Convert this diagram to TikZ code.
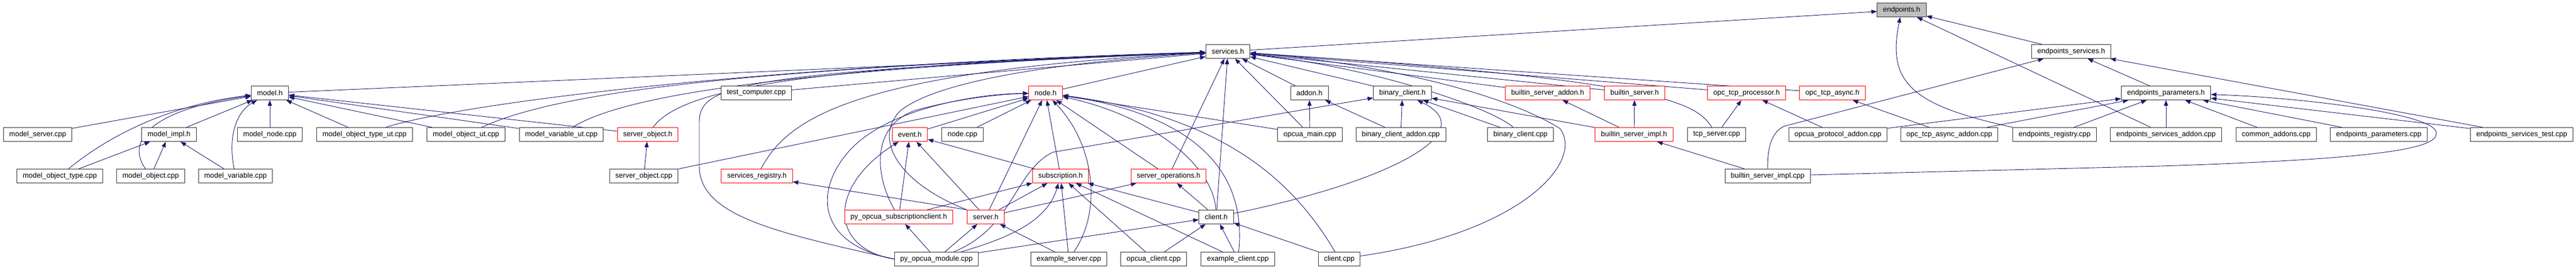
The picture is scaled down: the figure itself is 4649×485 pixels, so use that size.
\documentclass[tikz,border=0pt]{standalone}
\usepackage{fontspec}
\setmainfont{Liberation Sans}
\usetikzlibrary{arrows.meta,backgrounds}
\definecolor{edgeblue}{RGB}{25,25,112}
\tikzset{
  filebox/.style={draw=black!80, fill=white, line width=1pt, font=\fontsize{13}{15}\selectfont,
    inner xsep=10.5pt, inner ysep=0pt, minimum height=25pt},
  redbox/.style={filebox, draw=red},
  mainbox/.style={filebox, fill=black!25},
  incl/.style={draw=edgeblue, line width=0.9pt, -{Triangle[length=10pt,width=7.5pt]}}
}
\begin{document}
\begin{tikzpicture}[x=1pt, y=-1pt]
\useasboundingbox (0,0) rectangle (4649,485);
% row 0 and 1
\node[mainbox] (endpoints) at (3432,18) {endpoints.h};
\node[filebox] (services) at (2216,93) {services.h};
\node[filebox] (epservices) at (3738,93) {endpoints\_services.h};
% row 2
\node[filebox] (model) at (487,168) {model.h};
\node[filebox] (testcomputer) at (1365,168) {test\_computer.cpp};
\node[redbox] (node) at (1887,168) {node.h};
\node[filebox] (addon) at (2363,168) {addon.h};
\node[filebox] (binclient) at (2531,168) {binary\_client.h};
\node[redbox] (bsaddon) at (2793,168) {builtin\_server\_addon.h};
\node[redbox] (bserver) at (2950,168) {builtin\_server.h};
\node[redbox] (tcpproc) at (3152,168) {opc\_tcp\_processor.h};
\node[redbox] (tcpasync) at (3307,168) {opc\_tcp\_async.h};
\node[filebox] (epparams) at (3909,168) {endpoints\_parameters.h};
% row 3
\node[filebox] (modelserver) at (68,243) {model\_server.cpp};
\node[filebox] (modelimpl) at (305,243) {model\_impl.h};
\node[filebox] (modelnode) at (487,243) {model\_node.cpp};
\node[filebox] (motut) at (658,243) {model\_object\_type\_ut.cpp};
\node[filebox] (moutcpp) at (841,243) {model\_object\_ut.cpp};
\node[filebox] (mvut) at (1013,243) {model\_variable\_ut.cpp};
\node[redbox] (serverobj) at (1169,243) {server\_object.h};
\node[redbox] (event) at (1642,243) {event.h};
\node[filebox] (nodecpp) at (1737,243) {node.cpp};
\node[filebox] (opcuamain) at (2364,243) {opcua\_main.cpp};
\node[filebox] (bcaddon) at (2528,243) {binary\_client\_addon.cpp};
\node[filebox] (bccpp) at (2744,243) {binary\_client.cpp};
\node[redbox] (bsimpl) at (2949,243) {builtin\_server\_impl.h};
\node[filebox] (tcpserver) at (3098,243) {tcp\_server.cpp};
\node[filebox] (protoaddon) at (3317,243) {opcua\_protocol\_addon.cpp};
\node[filebox] (asyncaddon) at (3518,243) {opc\_tcp\_async\_addon.cpp};
\node[filebox] (epregistry) at (3708,243) {endpoints\_registry.cpp};
\node[filebox] (epsaddon) at (3909,243) {endpoints\_services\_addon.cpp};
\node[filebox] (commonaddons) at (4108,243) {common\_addons.cpp};
\node[filebox] (epparamscpp) at (4293,243) {endpoints\_parameters.cpp};
\node[filebox] (epstest) at (4551,243) {endpoints\_services\_test.cpp};
% row 4
\node[filebox] (mot) at (108,318) {model\_object\_type.cpp};
\node[filebox] (mo) at (272,318) {model\_object.cpp};
\node[filebox] (mv) at (425,318) {model\_variable.cpp};
\node[filebox] (serverobjcpp) at (1162,318) {server\_object.cpp};
\node[redbox] (registry) at (1366,318) {services\_registry.h};
\node[redbox] (subscription) at (1914,318) {subscription.h};
\node[redbox] (serverops) at (2109,318) {server\_operations.h};
\node[filebox] (bsimplcpp) at (3190,318) {builtin\_server\_impl.cpp};
% row 5
\node[redbox] (pysubclient) at (1622,392) {py\_opcua\_subscriptionclient.h};
\node[redbox] (serverh) at (1779,392) {server.h};
\node[filebox] (clienth) at (2195,392) {client.h};
% row 6
\node[filebox] (pymodule) at (1690,468) {py\_opcua\_module.cpp};
\node[filebox] (exserver) at (1929,468) {example\_server.cpp};
\node[filebox] (opcuaclient) at (2082,468) {opcua\_client.cpp};
\node[filebox] (exclient) at (2234,468) {example\_client.cpp};
\node[filebox] (clientcpp) at (2417,468) {client.cpp};

\begin{scope}[on background layer]
% endpoints.h
\draw[incl] (services) -- (endpoints);
\draw[incl] (epservices) -- (endpoints);
\draw[incl] (epregistry.north west) .. controls (3450,190) and (3405,150) .. (endpoints);
\draw[incl] (epsaddon) -- (endpoints);
% endpoints_services.h
\draw[incl] (epparams) -- (epservices);
\draw[incl] (epstest) -- (epservices);
\draw[incl] (bsimplcpp) .. controls (3190,270) and (3195,240) .. (3220,228) -- (epservices);
% endpoints_parameters.h
\draw[incl] (protoaddon) -- (epparams);
\draw[incl] (asyncaddon) -- (epparams);
\draw[incl] (epregistry) -- (epparams);
\draw[incl] (epsaddon) -- (epparams);
\draw[incl] (commonaddons) -- (epparams);
\draw[incl] (epparamscpp) -- (epparams);
\draw[incl] (epstest) -- (epparams);
\draw[incl] (bsimplcpp) -- (3900,300) .. controls (4300,287) and (4400,268) .. (4397,240)
  .. controls (4395,205) and (4150,176) .. (epparams);
% opc_tcp_processor.h, opc_tcp_async.h
\draw[incl] (protoaddon) -- (tcpproc);
\draw[incl] (tcpserver) -- (tcpproc);
\draw[incl] (asyncaddon) -- (tcpasync);
% builtin_server_impl.h
\draw[incl] (bsimplcpp) -- (bsimpl);
\draw[incl] (bsimpl) -- (bsaddon);
\draw[incl] (bsimpl) -- (bserver);
\draw[incl] (bsimpl) -- (binclient);
% services.h, right side
\draw[incl] (binclient) -- (services);
\draw[incl] (bsaddon) -- (services);
\draw[incl] (bserver) -- (services);
\draw[incl] (tcpproc) -- (services);
\draw[incl] (tcpasync) -- (services);
\draw[incl] (bccpp) .. controls (2700,200) and (2500,125) .. (services);
\draw[incl] (tcpserver) .. controls (3060,185) and (3000,145) .. (services);
\draw[incl] (clientcpp) .. controls (2750,420) and (2860,290) .. (2815,232)
  .. controls (2700,160) and (2450,110) .. (services);
\draw[incl] (addon) -- (services);
\draw[incl] (opcuamain) -- (services);
\draw[incl] (clienth) -- (services);
\draw[incl] (serverops) -- (services);
% services.h, left side
\draw[incl] (model) -- (services);
\draw[incl] (motut) .. controls (800,195) and (1300,120) .. (services);
\draw[incl] (moutcpp) .. controls (1000,170) and (1300,125) .. (services);
\draw[incl] (mvut) .. controls (1120,175) and (1400,125) .. (services);
\draw[incl] (serverobj) .. controls (1230,160) and (1450,120) .. (services);
\draw[incl] (testcomputer) -- (services);
\draw[incl] (registry) .. controls (1420,220) and (1520,130) .. (services);
\draw[incl] (node) -- (services);
\draw[incl] (pymodule.west) .. controls (1400,420) and (1262,390) .. (1262,300) -- (1262,220)
  .. controls (1262,150) and (1350,130) .. (services);
\draw[incl] (serverh.north west) .. controls (1620,330) and (1575,250) .. (1625,200)
  .. controls (1700,140) and (1950,110) .. (services);
% addon.h, binary_client.h
\draw[incl] (opcuamain) -- (addon);
\draw[incl] (bcaddon) -- (addon);
\draw[incl] (bcaddon) -- (binclient);
\draw[incl] (bccpp) -- (binclient);
\draw[incl] (clienth) .. controls (2500,330) and (2680,240) .. (binclient);
\draw[incl] (pymodule) .. controls (1830,410) and (1830,310) .. (1900,275) -- (binclient);
% model.h, model_impl.h, server_object.h
\draw[incl] (modelserver) -- (model);
\draw[incl] (modelimpl) -- (model);
\draw[incl] (modelnode) -- (model);
\draw[incl] (motut) -- (model);
\draw[incl] (moutcpp) -- (model);
\draw[incl] (mvut) -- (model);
\draw[incl] (serverobj) -- (model);
\draw[incl] (mot) .. controls (190,250) and (300,190) .. (model);
\draw[incl] (mo) .. controls (230,260) and (260,200) .. (model);
\draw[incl] (mv) .. controls (410,240) and (430,200) .. (model);
\draw[incl] (mot) -- (modelimpl);
\draw[incl] (mo) -- (modelimpl);
\draw[incl] (mv) -- (modelimpl);
\draw[incl] (serverobjcpp) -- (serverobj);
% node.h
\draw[incl] (event) -- (node);
\draw[incl] (nodecpp) -- (node);
\draw[incl] (serverh) -- (node);
\draw[incl] (subscription) -- (node);
\draw[incl] (serverops) -- (node);
\draw[incl] (opcuamain) -- (node);
\draw[incl] (serverobjcpp) -- (node);
\draw[incl] (exserver) .. controls (1990,380) and (1975,260) .. (node);
\draw[incl] (clienth) .. controls (2190,300) and (2080,210) .. (node);
\draw[incl] (exclient) .. controls (2250,320) and (2170,210) .. (node);
\draw[incl] (clientcpp) .. controls (2330,320) and (2200,210) .. (node);
\draw[incl] (pysubclient) .. controls (1580,320) and (1570,230) .. (1650,200)
  .. controls (1720,180) and (1800,170) .. (node);
\draw[incl] (pymodule.west) .. controls (1470,440) and (1470,340) .. (1535,270)
  .. controls (1600,200) and (1750,170) .. (node);
% event.h
\draw[incl] (pysubclient) -- (event);
\draw[incl] (serverh) -- (event);
\draw[incl] (subscription) -- (event);
\draw[incl] (pymodule.west) .. controls (1500,450) and (1490,340) .. (event);
% subscription.h
\draw[incl] (pysubclient) -- (subscription);
\draw[incl] (serverh) -- (subscription);
\draw[incl] (pymodule) .. controls (1820,430) and (1890,400) .. (subscription);
\draw[incl] (exserver) -- (subscription);
\draw[incl] (opcuaclient) -- (subscription);
\draw[incl] (exclient) -- (subscription);
\draw[incl] (clienth) -- (subscription);
% server_operations.h, services_registry.h
\draw[incl] (serverh) -- (serverops);
\draw[incl] (clienth) -- (serverops);
\draw[incl] (serverh.north west) -- (registry);
% server.h, py_opcua_subscriptionclient.h, client.h
\draw[incl] (pymodule) -- (serverh);
\draw[incl] (exserver) -- (serverh);
\draw[incl] (pymodule) -- (pysubclient);
\draw[incl] (pymodule) -- (clienth);
\draw[incl] (opcuaclient) -- (clienth);
\draw[incl] (exclient) -- (clienth);
\draw[incl] (clientcpp) -- (clienth);
\end{scope}
\end{tikzpicture}
\end{document}
